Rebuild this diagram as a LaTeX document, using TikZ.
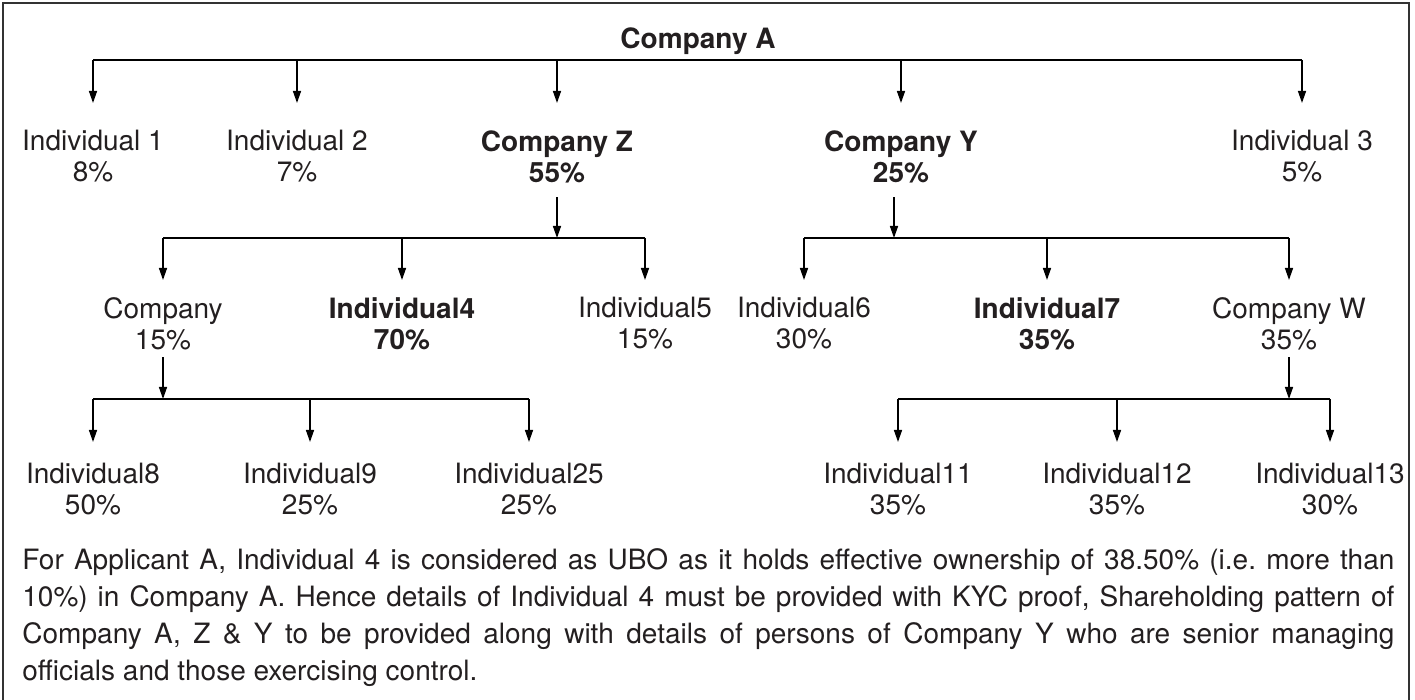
\documentclass[tikz,border=0pt]{standalone}
\usepackage{fontspec}
\setmainfont{TeX Gyre Heros}
\usepackage{tikz}
\usetikzlibrary{arrows.meta,positioning}
\definecolor{ink}{HTML}{231F20}
\tikzstyle{arrow}=[draw,-{Triangle[length=6pt,width=4pt]},line width=0.7pt]
\tikzstyle{bar}=[draw,line width=0.7pt]
\tikzstyle{share}=[inner sep=0pt,align=center,anchor=north,text=ink,font=\fontsize{14}{15.5}\selectfont]
\tikzstyle{owner}=[share,font=\fontsize{14}{15.5}\selectfont\bfseries]

\begin{document}
\begin{tikzpicture}[x=0.5pt,y=-0.5pt]
\useasboundingbox (0,0) rectangle (1415,700);
\draw[black!80,line width=1pt] (3,3) rectangle (1409,720);

% company A and its shareholders
\node [owner] (A) at (698,27) {Company A};
\node [share] (i1) at (93,130) {Individual 1\\8\%};
\node [share] (i2) at (297,130) {Individual 2\\7\%};
\node [owner] (Z) at (557,130) {Company Z\\55\%};
\node [owner] (Y) at (901,130) {Company Y\\25\%};
\node [share] (i3) at (1302,130) {Individual 3\\5\%};
\coordinate (Ab) at (0,60);
\draw[bar] (i1 |- Ab) -- (i3 |- Ab);
\draw[arrow,shorten >=13.5pt] (i1 |- Ab) -- (i1);
\draw[arrow,shorten >=13.5pt] (i2 |- Ab) -- (i2);
\draw[arrow,shorten >=13.5pt] (Z |- Ab) -- (Z);
\draw[arrow,shorten >=13.5pt] (Y |- Ab) -- (Y);
\draw[arrow,shorten >=13.5pt] (i3 |- Ab) -- (i3);

% company Z
\node [share] (C) at (163,297) {Company\\15\%};
\node [owner] (i4) at (402,297) {Individual4\\70\%};
\node [share] (i5) at (645,297) {Individual5\\15\%};
\coordinate (Zb) at (557,238);
\draw[arrow,shorten <=7pt] (Z) -- (Zb);
\draw[bar] (C |- Zb) -- (i5 |- Zb);
\draw[arrow,shorten >=8.5pt] (C |- Zb) -- (C);
\draw[arrow,shorten >=8.5pt] (i4 |- Zb) -- (i4);
\draw[arrow,shorten >=8.5pt] (i5 |- Zb) -- (i5);

% company Y
\node [share] (i6) at (804,297) {Individual6\\30\%};
\node [owner] (i7) at (1047,297) {Individual7\\35\%};
\node [share] (W) at (1289,297) {Company W\\35\%};
\coordinate (Yb) at (894,238);
\draw[arrow,shorten <=7pt] (Y.south -| Yb) -- (Yb);
\draw[bar] (i6 |- Yb) -- (W |- Yb);
\draw[arrow,shorten >=8.5pt] (i6 |- Yb) -- (i6);
\draw[arrow,shorten >=8.5pt] (i7 |- Yb) -- (i7);
\draw[arrow,shorten >=8.5pt] (W |- Yb) -- (W);

% company (15%)
\node [share] (i8) at (93,463) {Individual8\\50\%};
\node [share] (i9) at (310,463) {Individual9\\25\%};
\node [share] (i25) at (529,463) {Individual25\\25\%};
\coordinate (Cb) at (163,399);
\draw[arrow,shorten <=3.5pt] (C) -- (Cb);
\draw[bar] (i8 |- Cb) -- (i25 |- Cb);
\draw[arrow,shorten >=10.5pt] (i8 |- Cb) -- (i8);
\draw[arrow,shorten >=10.5pt] (i9 |- Cb) -- (i9);
\draw[arrow,shorten >=10.5pt] (i25 |- Cb) -- (i25);

% company W
\node [share] (i11) at (898,463) {Individual11\\35\%};
\node [share] (i12) at (1117,463) {Individual12\\35\%};
\node [share] (i13) at (1330,463) {Individual13\\30\%};
\coordinate (Wb) at (1289,399);
\draw[arrow,shorten <=3.5pt] (W) -- (Wb);
\draw[bar] (i11 |- Wb) -- (i13 |- Wb);
\draw[arrow,shorten >=10.5pt] (i11 |- Wb) -- (i11);
\draw[arrow,shorten >=10.5pt] (i12 |- Wb) -- (i12);
\draw[arrow,shorten >=10.5pt] (i13 |- Wb) -- (i13);

\node [inner sep=0pt,anchor=north west,text=ink,text width=686pt,align=justify,
  font=\fontsize{14}{18.5}\selectfont\frenchspacing] (note) at (22,548)
  {For Applicant A, Individual 4 is considered as UBO as it holds effective ownership of 38.50\% (i.e. more than\linebreak
   10\%) in Company A. Hence details of Individual 4 must be provided with KYC proof, Shareholding pattern of\linebreak
   Company A, Z \& Y to be provided along with details of persons of Company Y who are senior managing\linebreak
   officials and those exercising control.};
\end{tikzpicture}
\end{document}
